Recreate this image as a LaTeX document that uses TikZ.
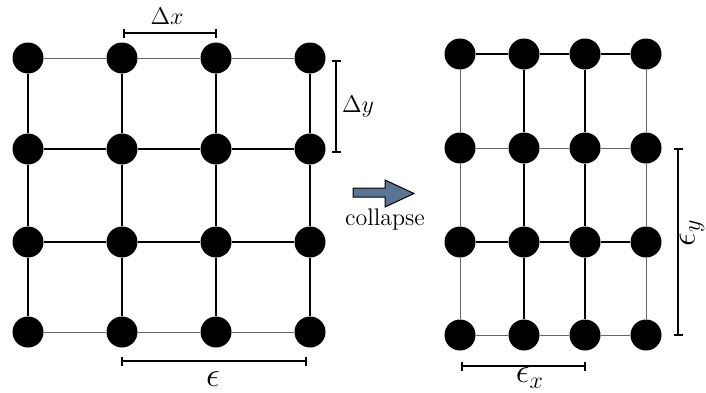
\documentclass[tikz,border=0pt]{standalone}
\usetikzlibrary{arrows.meta}
\definecolor{arrowblue}{HTML}{5A7594}
\begin{document}
\begin{tikzpicture}[x=0.5pt,y=-0.5pt,
  dot/.style={circle,fill=black,minimum size=15.5pt,inner sep=0pt},
  thk/.style={line width=1pt,black},
  thn/.style={line width=0.5pt,black!60},
  scalebar/.style={line width=1pt,{Bar[width=4.5pt]}-{Bar[width=4.5pt]}},
  lbl/.style={font=\fontsize{12}{14}\selectfont,inner sep=1pt},
  biglbl/.style={font=\fontsize{17}{20}\selectfont,inner sep=0pt}]
\useasboundingbox (0,0) rectangle (706,392);
% left grid nodes
\foreach \x [count=\i] in {28,122,216,310}
  \foreach \y [count=\j] in {58,149,242,332}
    \node[dot] (L\i\j) at (\x,\y) {};
% right grid nodes
\foreach \x [count=\i] in {460,524,585,646}
  \foreach \y [count=\j] in {54,148,242,335}
    \node[dot] (R\i\j) at (\x,\y) {};
% left grid connectors
\foreach \j/\s in {1/thn,2/thk,3/thk,4/thn}
  \foreach \i/\k in {1/2,2/3,3/4}
    \draw[\s] (L\i\j) -- (L\k\j);
\foreach \i in {1,2,3,4}
  \foreach \j/\k in {1/2,2/3,3/4}
    \draw[thk] (L\i\j) -- (L\i\k);
% right grid connectors
\foreach \j/\s in {1/thk,2/thn,3/thk,4/thn}
  \foreach \i/\k in {1/2,2/3,3/4}
    \draw[\s] (R\i\j) -- (R\k\j);
\foreach \i/\s in {1/thn,2/thk,3/thk,4/thn}
  \foreach \j/\k in {1/2,2/3,3/4}
    \draw[\s] (R\i\j) -- (R\i\k);
% scale bars
\coordinate (dxa) at (123,33); \coordinate (dxb) at (217,33);
\coordinate (dya) at (336,60); \coordinate (dyb) at (336,153);
\coordinate (ea) at (121,361); \coordinate (eb) at (307,361);
\coordinate (exa) at (461,366); \coordinate (exb) at (586,366);
\coordinate (eya) at (678,148); \coordinate (eyb) at (678,336);
\draw[scalebar] (dxa) -- (dxb);
\draw[scalebar] (dya) -- (dyb);
\draw[scalebar] (ea) -- (eb);
\draw[scalebar] (exa) -- (exb);
\draw[scalebar] (eya) -- (eyb);
\node[lbl] (dxl) at (167,16) {$\Delta x$};
\node[lbl] (dyl) at (358,107) {$\Delta y$};
\node[biglbl] (el) at (213,379) {$\epsilon$};
\node[biglbl] (exl) at (530,378) {$\epsilon_x$};
\node[biglbl,rotate=90] (eyl) at (692,233) {$\epsilon_y$};
% collapse arrow
\draw[fill=arrowblue,line width=0.5pt] (353,188) -- (385,188) -- (385,180) -- (414,193.5) -- (385,207) -- (385,197) -- (353,197) -- cycle;
\node[lbl] (coll) at (385,219) {collapse};
\end{tikzpicture}
\end{document}
